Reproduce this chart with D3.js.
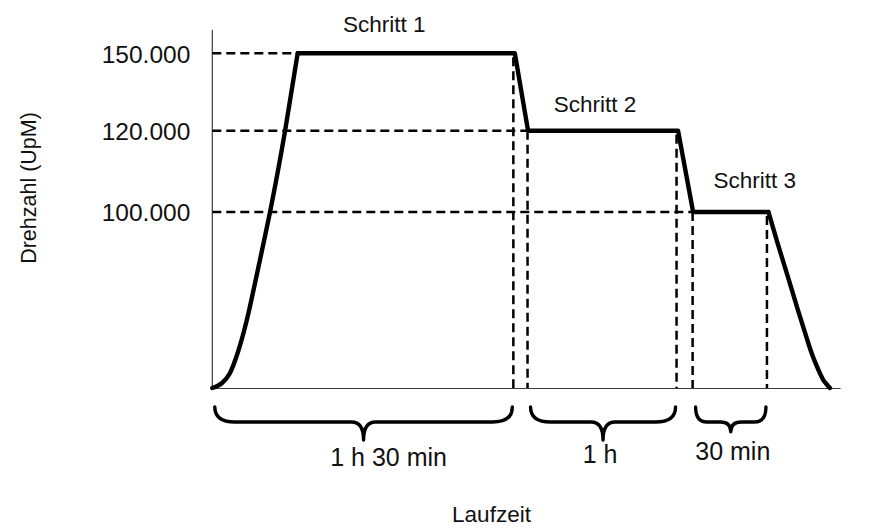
<!DOCTYPE html>
<html>
<head>
<meta charset="utf-8">
<script src="https://cdn.jsdelivr.net/npm/d3@7"></script>
<style>
  html, body { margin: 0; padding: 0; background: #fff; }
  svg { display: block; }
  text { font-family: "Liberation Sans", Arial, Helvetica, sans-serif; fill: #111; }
</style>
</head>
<body>
<script>
// Speed levels of the three-step centrifuge run (rpm)
const rpmLevels = [0, 100000, 120000, 150000];
const yTickValues = [100000, 120000, 150000];

// Run-up to the first speed (schematic time units, rpm)
const rampUpTime = [0, 1.5, 2.8, 4.1, 5.5, 6.8, 8.1, 9.2, 11.6, 13.6];
const rampUpRpm  = [0, 2700, 8400, 20600, 38600, 59500, 81250, 100000, 120000, 150000];

// Holding phases and the short decelerations between them
const holdTime = [13.6, 48.2, 50.3, 74.2, 76.6, 88.6];
const holdRpm  = [150000, 150000, 120000, 120000, 100000, 100000];

// Run-down to standstill
const rampDownTime = [88.6, 90.1, 91.7, 93.3, 94.6, 95.5, 96.5, 97.3, 97.9, 98.4];
const rampDownRpm  = [100000, 81800, 63100, 44300, 29500, 19600, 10800, 4800, 2000, 0];

// Steps
const stepNames     = ["Schritt 1", "Schritt 2", "Schritt 3"];
const stepRpm       = [150000, 120000, 100000];
const stepStart     = [0, 50.3, 76.6];     // begin of the step
const plateauStart  = [13.6, 50.3, 76.6];  // speed reached
const stepEnd       = [48.2, 74.2, 88.6];  // deceleration starts
const stepDurations = ["1 h 30 min", "1 h", "30 min"];

// Layout
const W = 876, H = 528;
const margin = { left: 212.3, top: 30 };
const plotW = 627.7, plotH = 358;
const stepLabelDx = [-22, -8, 24], stepLabelDy = [-21, -19, -24];
const durLabelDx = [25, -3, 2], durLabelDy = [29, 26, 31];

const svg = d3.select("body").append("svg").attr("width", W).attr("height", H);
const g = svg.append("g").attr("transform", `translate(${margin.left},${margin.top})`);

const x = d3.scaleLinear().domain([0, 100]).range([0, plotW]);
const y = d3.scaleLinear().domain(rpmLevels).range([plotH, 182, 100.7, 23.3]);

const de = d3.formatLocale({ decimal: ",", thousands: ".", grouping: [3], currency: ["", " €"] });
const fmt = de.format(",");

// Axes
g.append("line").attr("x1", 0).attr("x2", 0).attr("y1", 0).attr("y2", plotH)
  .attr("stroke", "#3a3a3a").attr("stroke-width", 1.2);

const xAxis = g.append("g").attr("transform", `translate(0,${plotH})`)
  .call(d3.axisBottom(x).tickValues([]).tickSizeOuter(0));
xAxis.select(".domain").attr("stroke", "#3a3a3a").attr("stroke-width", 1.2);

const yAxis = g.append("g")
  .call(d3.axisLeft(y).tickValues(yTickValues).tickFormat(fmt).tickSize(0).tickPadding(22));
yAxis.select(".domain").remove();
yAxis.selectAll("text")
  .attr("font-family", "Liberation Sans, Arial, sans-serif")
  .attr("font-size", "24.5px").attr("fill", "#111").attr("dy", "0.36em");

// Dashed guide lines
const dash = "9,5";
const guides = g.append("g").attr("stroke", "#000").attr("stroke-width", 2.5)
  .attr("stroke-dasharray", dash).attr("fill", "none");

stepRpm.forEach((v, i) => {
  guides.append("line")
    .attr("x1", x(0)).attr("x2", x(plateauStart[i]))
    .attr("y1", y(v)).attr("y2", y(v));
});
stepRpm.forEach((v, i) => {
  // end of each step
  guides.append("line")
    .attr("x1", x(stepEnd[i]) - 1.5).attr("x2", x(stepEnd[i]) - 1.5)
    .attr("y1", y(v) + 4).attr("y2", y(0));
  // start of steps 2 and 3
  if (i > 0) {
    guides.append("line")
      .attr("x1", x(plateauStart[i]) - 0.5).attr("x2", x(plateauStart[i]) - 0.5)
      .attr("y1", y(v)).attr("y2", y(0));
  }
});

// Speed profile
const pts = (t, r) => t.map((d, i) => [x(d), y(r[i])]);
const smooth = d3.line().curve(d3.curveMonotoneX);
const straight = d3.line();
const prof = g.append("g").attr("fill", "none").attr("stroke", "#000")
  .attr("stroke-width", 4.4).attr("stroke-linejoin", "round").attr("stroke-linecap", "round");
prof.append("path").attr("d", smooth(pts(rampUpTime, rampUpRpm)));
prof.append("path").attr("d", straight(pts(holdTime, holdRpm)));
prof.append("path").attr("d", smooth(pts(rampDownTime, rampDownRpm)));

// Step labels
stepNames.forEach((name, i) => {
  g.append("text")
    .attr("x", (x(plateauStart[i]) + x(stepEnd[i])) / 2 + stepLabelDx[i])
    .attr("y", y(stepRpm[i]) + stepLabelDy[i])
    .attr("text-anchor", "middle").attr("font-size", "22.5px")
    .text(name);
});

// Curly braces under the time axis
function bracePath(x0, x1, yTop, yFlat, depth) {
  const w = x1 - x0, xm = (x0 + x1) / 2;
  const r = Math.min(20, w * 0.16);
  const r2 = Math.min(12, w * 0.15);
  const yTip = yFlat + depth;
  return `M${x0},${yTop} Q${x0},${yFlat} ${x0 + r},${yFlat} L${xm - r2},${yFlat} ` +
         `Q${xm},${yFlat} ${xm},${yTip} Q${xm},${yFlat} ${xm + r2},${yFlat} ` +
         `L${x1 - r},${yFlat} Q${x1},${yFlat} ${x1},${yTop}`;
}
const braceTop = plotH + 19, braceFlat = plotH + 34;
stepDurations.forEach((lab, i) => {
  const x0 = x(stepStart[i]) + 2.5, x1 = x(stepEnd[i]) - 2.5;
  const depth = Math.min(18, (x1 - x0) * 0.14);
  g.append("path").attr("d", bracePath(x0, x1, braceTop, braceFlat, depth))
    .attr("fill", "none").attr("stroke", "#000").attr("stroke-width", 3.4)
    .attr("stroke-linecap", "round").attr("stroke-linejoin", "round");
  g.append("text")
    .attr("x", (x0 + x1) / 2 + durLabelDx[i])
    .attr("y", braceFlat + depth + durLabelDy[i] - 3)
    .attr("text-anchor", "middle").attr("font-size", "25px")
    .text(lab);
});

// Axis titles
svg.append("text")
  .attr("transform", "translate(36,188) rotate(-90)")
  .attr("text-anchor", "middle").attr("font-size", "21.5px")
  .text("Drehzahl (UpM)");
svg.append("text")
  .attr("x", 491.5).attr("y", 522)
  .attr("text-anchor", "middle").attr("font-size", "22.5px")
  .text("Laufzeit");
</script>
</body>
</html>
